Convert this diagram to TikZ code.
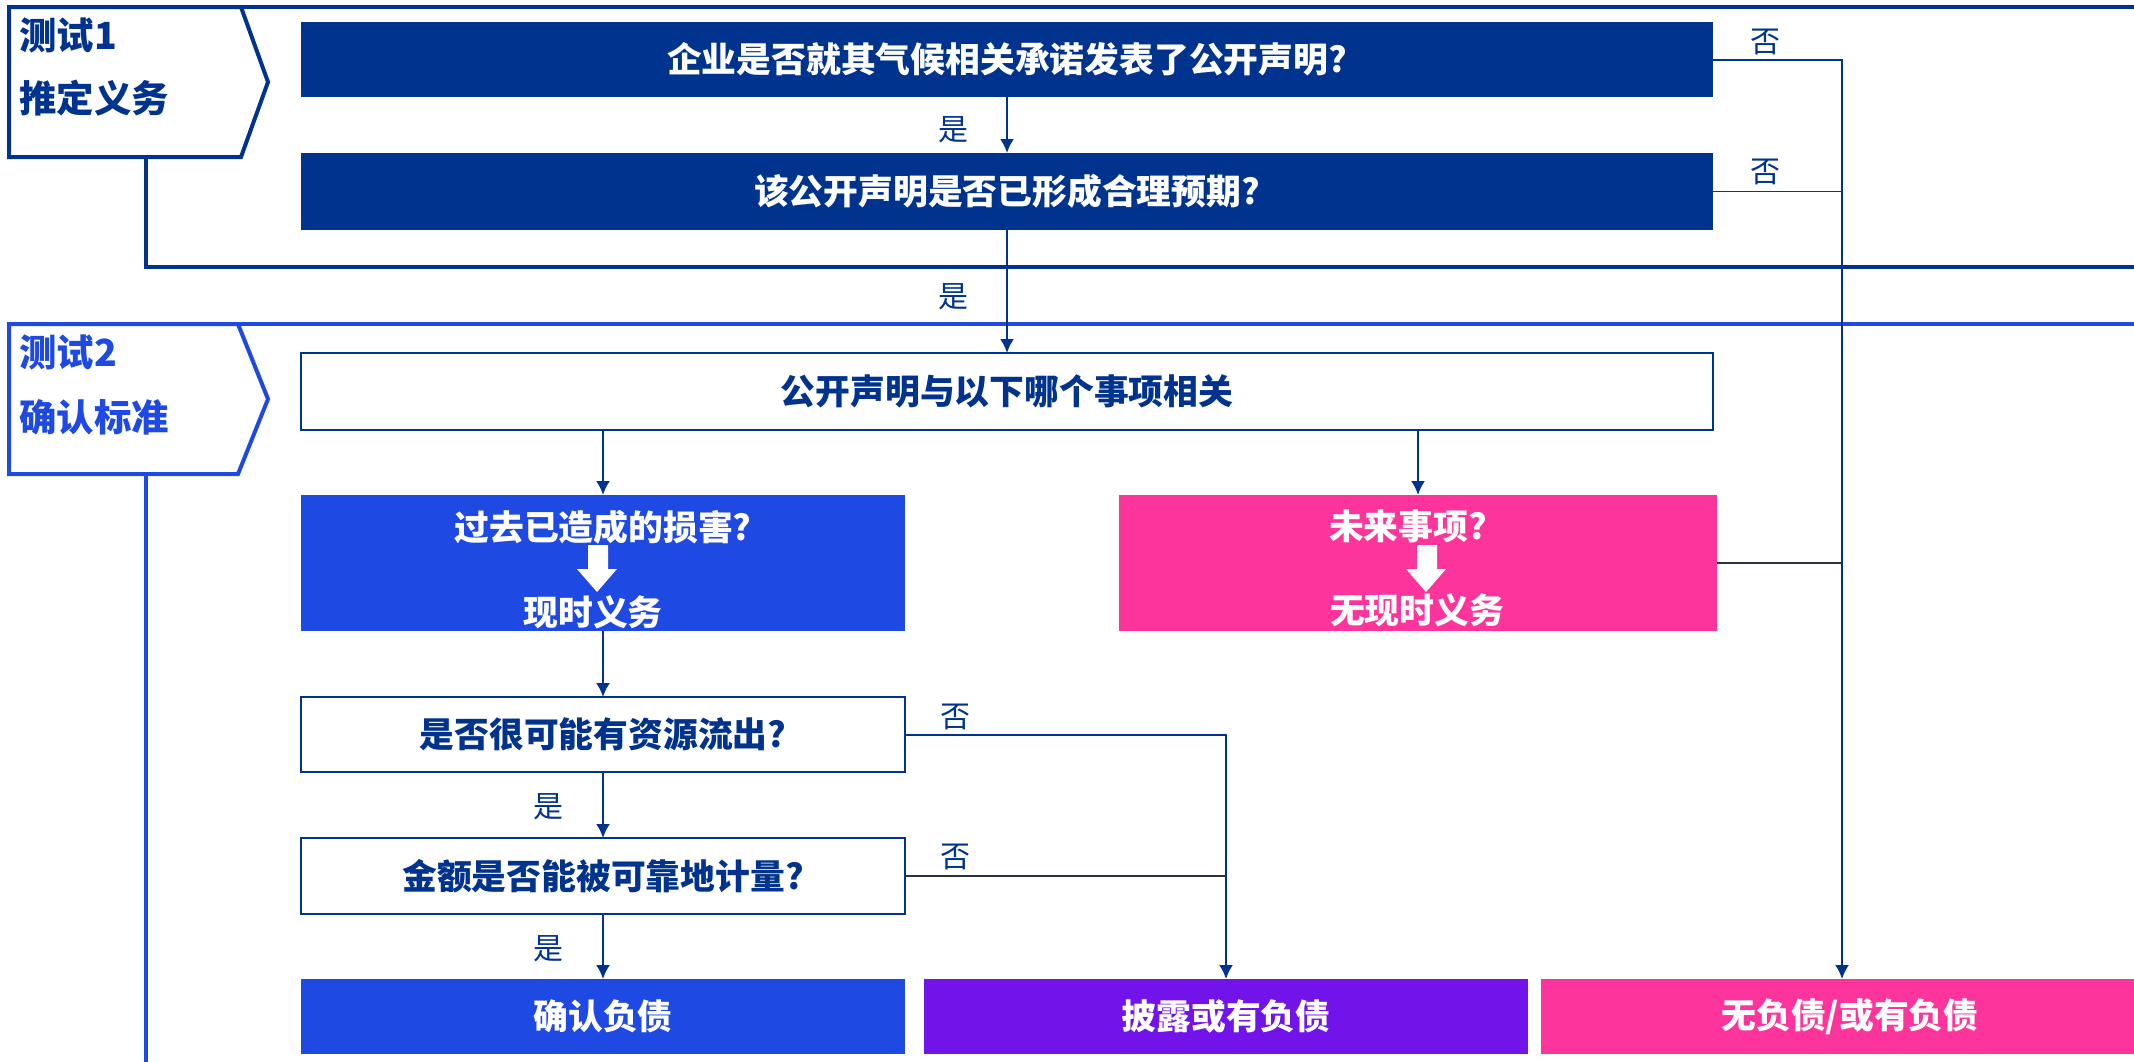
\documentclass[tikz,border=0pt]{standalone}
\usepackage{fontspec}
\setmainfont{Noto Sans CJK SC}
\usetikzlibrary{arrows.meta}
\definecolor{navy}{HTML}{00338D}
\definecolor{cobalt}{HTML}{1E49E2}
\definecolor{kpink}{HTML}{FD349C}
\definecolor{kpurple}{HTML}{7213EA}
\definecolor{darkline}{HTML}{2A3440}
\begin{document}
\begin{tikzpicture}[x=0.5pt,y=-0.5pt,
  box/.style={rectangle, inner sep=0pt, outer sep=0pt, text=white,
    font=\bfseries\fontsize{17.4}{20}\selectfont, minimum height=37.5pt},
  fillbox/.style={box, fill=#1, draw=none},
  wbox/.style={box, draw=navy, line width=0.9pt, fill=white, text=navy},
  btext/.style={inner sep=0pt, text=white, font=\bfseries\fontsize{17.4}{20}\selectfont},
  conn/.style={draw=navy, line width=1pt, -{Latex[length=7pt,width=7pt]}},
  thinline/.style={draw=darkline, line width=0.7pt},
  yn/.style={text=navy, font=\fontsize{15}{18}\selectfont, inner sep=0pt},
  frame/.style={line width=1.6pt},
  penta/.style={line width=2pt, fill=white},
  ptext/.style={anchor=west, inner sep=0pt, font=\bfseries\fontsize{18.7}{22}\selectfont},
  blockarrow/.style={fill=white}
]
\path[use as bounding box] (0,0) rectangle (2134,1061);
\clip (0,0) rectangle (2134,1061);

% frames
\draw[frame, navy] (241,7) -- (2150,7);
\draw[frame, navy] (146,157) -- (146,267) -- (2150,267);
\draw[frame, cobalt] (238,324) -- (2150,324);
\draw[frame, cobalt] (146,474) -- (146,1080);

% pentagon labels
\draw[penta, draw=navy] (9,7) -- (241,7) -- (268,82) -- (241,157) -- (9,157) -- cycle;
\node[ptext, text=navy] (t1a) at (19,35) {测试1};
\node[ptext, text=navy] (t1b) at (19,98) {推定义务};
\draw[penta, draw=cobalt] (9,324) -- (238,324) -- (268,399) -- (238,474) -- (9,474) -- cycle;
\node[ptext, text=cobalt] (t2a) at (19,352) {测试2};
\node[ptext, text=cobalt] (t2b) at (19,417) {确认标准};

% boxes
\node[fillbox=navy, minimum width=706pt, minimum height=37.5pt] (b1) at (1007,59.5) {企业是否就其气候相关承诺发表了公开声明?};
\node[fillbox=navy, minimum width=706pt, minimum height=38.5pt] (b2) at (1007,191.5) {该公开声明是否已形成合理预期?};
\node[wbox, minimum width=706pt, minimum height=38.5pt] (b3) at (1007,391.5) {公开声明与以下哪个事项相关};
\node[fillbox=cobalt, minimum width=302pt, minimum height=68pt] (b4) at (603,563) {};
\node[fillbox=kpink, minimum width=299pt, minimum height=68pt] (b5) at (1418,563) {};
\node[wbox, minimum width=302pt, minimum height=37.5pt] (b6) at (603,734.5) {是否很可能有资源流出?};
\node[wbox, minimum width=302pt, minimum height=38pt] (b7) at (603,876) {金额是否能被可靠地计量?};
\node[fillbox=cobalt, minimum width=302pt, minimum height=37.5pt] (b8) at (603,1016.5) {确认负债};
\node[fillbox=kpurple, minimum width=302pt, minimum height=37.5pt] (b9) at (1226,1016.5) {披露或有负债};
\node[fillbox=kpink, minimum width=309pt, minimum height=37.5pt] (b10) at (1850,1016.5) {无负债/或有负债};

% texts inside b4, b5
\node[btext] (b4a) at (603,527) {过去已造成的损害?};
\node[btext] (b4b) at (593,612) {现时义务};
\fill[blockarrow] (588,545) -- (608,545) -- (608,569) -- (617,569) -- (597,592) -- (577,569) -- (588,569) -- cycle;
\node[btext] (b5a) at (1408,526) {未来事项?};
\node[btext] (b5b) at (1417,610) {无现时义务};
\fill[blockarrow] (1417,545) -- (1437,545) -- (1437,569) -- (1446,569) -- (1426,592) -- (1406,569) -- (1417,569) -- cycle;

% connectors
\coordinate (v) at (1842,0);
\draw[conn] (b1.south) -- (b2.north);
\draw[conn] (b2.south) -- (b3.north);
\draw[conn] (b4.north |- b3.south) -- (b4.north);
\draw[conn] (b5.north |- b3.south) -- (b5.north);
\draw[conn] (b4.south) -- (b6.north);
\draw[conn] (b6.south) -- (b7.north);
\draw[conn] (b7.south) -- (b8.north);
\draw[conn] (b6.east) -| (b9.north);
\draw[thinline] (b7.east) -- (b9.north |- b7.east);
\draw[conn] (b1.east) -| (v |- b10.north);
\draw[thinline] (b2.east) -- (v |- b2.east);
\draw[thinline] (b5.east) -- (v |- b5.east);

% labels
\node[yn] (y1) at (953,130) {是};
\node[yn] (y2) at (953,297) {是};
\node[yn] (y3) at (548,807) {是};
\node[yn] (y4) at (548,949) {是};
\node[yn] (n1) at (1765,42) {否};
\node[yn] (n2) at (1765,172) {否};
\node[yn] (n3) at (955,717) {否};
\node[yn] (n4) at (955,857) {否};
\end{tikzpicture}
\end{document}
